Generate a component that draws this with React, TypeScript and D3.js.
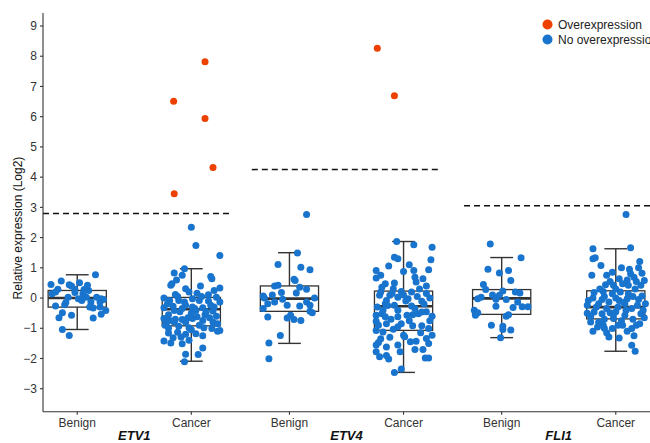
import React from 'react';
import * as d3 from 'd3';

// categories / groups
const genes = ['ETV1', 'ETV4', 'FLI1'];
const tissues = ['Benign', 'Cancer'];
// x position of each box (in category units)
const boxPos = [0, 1, 1.86, 2.86, 3.72, 4.72];

// box stats: [lowWhisker, q1, median, q3, highWhisker]
const boxStats = [
  [-1.04, -0.3, 0.0, 0.25, 0.77],
  [-2.09, -0.92, -0.37, 0.02, 0.97],
  [-1.5, -0.44, -0.02, 0.4, 1.5],
  [-2.46, -1.07, -0.27, 0.23, 1.87],
  [-1.31, -0.54, -0.01, 0.28, 1.34],
  [-1.76, -0.69, -0.3, 0.24, 1.63],
];

// overexpression threshold per gene
const thresholds = [2.8, 4.25, 3.05];

// points: [jitter, log2 value]
const etv1Benign = [
  [0.16, 0.77], [-0.23, 0.45], [-0.14, 0.56], [-0.07, 0.44], [-0.05, 0.4], [0.02, 0.51],
  [-0.17, 0.29], [-0.19, 0.2], [-0.02, 0.29], [0.06, 0.28], [0.1, 0.25], [0.05, 0.14],
  [-0.08, 0.03], [0.01, -0.02], [0.04, -0.08], [0.08, 0.03], [0.17, 0.03], [0.21, -0.02],
  [0.2, -0.13], [0.12, -0.13], [-0.19, -0.26], [-0.11, -0.22], [0.11, -0.3], [0.14, -0.33],
  [0.2, -0.3], [0.25, -0.41], [0.21, -0.54], [-0.13, -0.49], [-0.16, -0.65], [-0.05, -0.57],
  [0.14, -0.66], [-0.13, -1.04], [-0.07, -1.24], [-0.22, 0.14], [0.23, -0.05], [-0.02, 0.18],
  [0.09, 0.42], [-0.1, -0.15],
];
const etv1Cancer = [
  [0, 2.34], [0.04, 1.74], [0.25, 1.41], [-0.06, 0.97], [-0.15, 0.83], [-0.08, 0.75],
  [0.17, 0.71], [0.18, 0.64], [-0.17, 0.47], [-0.18, 0.42], [0.25, 0.33], [-0.05, 0.31],
  [-0.14, 0.12], [-0.02, 0.2], [0.05, 0.16], [0.15, 0.11], [-0.24, 0.0], [-0.19, -0.08],
  [-0.11, -0.08], [-0.06, -0.13], [0.01, -0.02], [0.07, -0.08], [0.22, 0.03], [0.25, -0.13],
  [-0.24, -0.32], [-0.16, -0.27], [-0.05, -0.24], [0.01, -0.3], [0.1, -0.32], [0.17, -0.24],
  [-0.15, -0.41], [0.04, -0.41], [0.19, -0.43], [-0.24, -0.68], [-0.19, -0.74], [-0.15, -0.79],
  [-0.08, -0.71], [-0.03, -0.65], [0.01, -0.68], [0.1, -0.74], [0.16, -0.65], [0.23, -0.85],
  [-0.22, -0.85], [-0.11, -0.93], [-0.02, -0.98], [0.07, -0.9], [0.11, -0.98], [0.18, -1.01],
  [0.25, -1.07], [-0.2, -1.16], [-0.12, -1.13], [-0.05, -1.2], [0.04, -1.18], [-0.16, -1.31],
  [-0.09, -1.29], [-0.24, -1.42], [-0.18, -1.49], [-0.08, -1.51], [0.1, -1.65], [0.06, -1.87],
  [-0.05, -1.86], [-0.06, -2.11], [-0.2, -0.55], [-0.1, -0.45], [0.0, -0.5], [0.12, -0.55],
  [0.22, -0.6], [-0.23, -0.9], [-0.05, -0.8], [0.05, -0.62], [0.2, -0.3], [0.15, -0.1],
  [-0.12, 0.05], [0.08, 0.4], [-0.2, -1.0], [0.0, -1.05], [0.1, -1.25], [-0.14, -0.7],
  [0.03, -0.35], [-0.08, -0.35], [0.23, -1.1], [0.19, -0.8], [0.13, -0.45], [-0.21, -0.2],
  [0.09, 0.05], [-0.02, -1.4], [0.2, 0.25], [-0.13, 0.6],
];
const etv1Over = [[-0.155, 6.51], [0.12, 7.82], [0.12, 5.94], [0.19, 4.32], [-0.15, 3.45]];

const etv4Benign = [
  [0.15, 2.76], [0.07, 1.49], [-0.1, 1.11], [0.1, 1.02], [0.18, 0.94], [0.05, 0.58],
  [-0.13, 0.4], [-0.1, 0.42], [0.09, 0.36], [0.15, 0.29], [-0.23, 0.07], [-0.22, 0.0],
  [-0.07, 0.18], [0.06, 0.17], [0.22, 0.0], [-0.19, -0.19], [-0.13, -0.13], [-0.06, -0.04],
  [-0.02, -0.24], [0.09, -0.26], [0.15, -0.13], [0.18, -0.24], [-0.23, -0.35], [0.18, -0.44],
  [0.2, -0.49], [-0.19, -0.63], [-0.02, -0.66], [0.04, -0.71], [0.1, -0.74], [0.01, -0.57],
  [-0.08, -1.24], [-0.18, -1.49], [-0.18, -2.01], [0.04, 0.62], [-0.15, 0.1],
];
const etv4Cancer = [
  [-0.06, 1.87], [0.09, 1.76], [0.25, 1.68], [-0.08, 1.35], [-0.05, 1.3], [0.24, 1.27],
  [-0.13, 1.06], [-0.24, 0.91], [0.0, 0.88], [0.09, 0.91], [0.22, 0.94], [-0.24, 0.66],
  [0.1, 0.69], [0.17, 0.64], [0.11, 0.53], [-0.16, 0.47], [-0.19, 0.36], [-0.09, 0.31],
  [-0.02, 0.22], [0.07, 0.2], [-0.21, 0.09], [-0.12, 0.09], [-0.05, 0.03], [0.04, -0.02],
  [0.23, 0.0], [0.16, -0.11], [-0.23, -0.3], [-0.16, -0.19], [-0.15, -0.08], [-0.08, -0.24],
  [0.07, -0.26], [-0.24, -0.57], [-0.19, -0.52], [-0.16, -0.62], [-0.05, -0.62], [0.03, -0.57],
  [0.13, -0.52], [0.16, -0.46], [-0.24, -0.77], [-0.15, -0.85], [0.08, -0.92], [0.16, -0.92],
  [0.22, -1.01], [-0.24, -1.07], [-0.18, -1.12], [-0.09, -1.03], [0.0, -1.23], [0.01, -1.28],
  [0.06, -1.45], [0.11, -1.43], [0.2, -1.34], [0.25, -1.23], [-0.22, -1.47], [-0.15, -1.62],
  [0.22, -1.5], [-0.24, -1.78], [-0.21, -1.94], [-0.13, -2.02], [-0.03, -1.78], [0.19, -1.98],
  [0.22, -1.98], [-0.02, -2.35], [-0.08, -2.46], [-0.2, 0.2], [-0.1, 0.15], [0.0, 0.1],
  [0.12, 0.05], [0.2, 0.15], [-0.18, -0.4], [-0.05, -0.4], [0.1, -0.35], [0.2, -0.45],
  [-0.22, -0.9], [-0.05, -0.95], [0.05, -0.75], [0.23, -0.75], [-0.12, -1.3], [0.15, -1.15],
  [-0.2, -1.35], [0.02, -0.1], [-0.14, -0.25], [0.18, -0.2], [0.25, -0.6], [-0.08, 0.5],
  [0.2, 0.4], [-0.2, 0.75], [0.05, 1.1], [-0.15, -1.9], [0.1, -1.7], [-0.05, -1.55],
  [0.17, -1.7], [-0.24, -1.55], [0.08, -0.55], [-0.11, -0.7], [0.14, 0.3], [-0.02, -0.85],
];
const etv4Over = [[-0.23, 8.26], [-0.08, 6.69]];

const fli1Benign = [
  [-0.1, 1.79], [0.17, 1.33], [-0.12, 0.95], [-0.02, 0.83], [0.06, 0.91], [0.08, 0.58],
  [-0.16, 0.45], [-0.14, 0.28], [-0.02, 0.09], [0.01, 0.23], [0.16, 0.17], [-0.21, -0.02],
  [-0.18, 0.03], [-0.05, -0.04], [0.04, -0.05], [0.14, -0.13], [-0.05, -0.27], [0.1, -0.31],
  [0.18, -0.29], [0.23, -0.29], [-0.24, -0.4], [-0.21, -0.49], [-0.23, -0.57], [0.04, -0.6],
  [0.06, -0.55], [-0.09, -0.9], [0.01, -0.93], [0.01, -1.04], [0.08, -1.06], [-0.01, -1.31],
  [0.12, 0.2], [-0.08, 0.1],
];
const fli1Cancer = [
  [0.09, 2.76], [-0.2, 1.63], [0.13, 1.66], [-0.2, 1.3], [-0.18, 1.33], [-0.13, 1.08],
  [0.21, 1.21], [-0.21, 0.75], [-0.08, 0.75], [0.13, 0.8], [0.16, 0.69], [0.23, 0.82],
  [0.25, 0.58], [0.03, 0.64], [-0.09, 0.44], [-0.02, 0.42], [0.06, 0.47], [0.11, 0.42],
  [0.22, 0.42], [-0.19, 0.18], [-0.11, 0.22], [-0.03, 0.14], [0.04, 0.2], [0.11, 0.14],
  [0.23, 0.07], [-0.24, -0.08], [-0.25, -0.24], [-0.15, -0.19], [-0.06, -0.13], [0.03, -0.08],
  [0.08, -0.19], [0.19, -0.24], [0.26, -0.19], [-0.19, -0.46], [-0.12, -0.52], [-0.05, -0.49],
  [-0.02, -0.68], [0.08, -0.57], [0.22, -0.52], [-0.22, -0.79], [-0.16, -0.96], [-0.11, -0.9],
  [-0.03, -1.01], [0.06, -0.9], [0.14, -1.01], [-0.06, -1.29], [0.03, -1.32], [0.16, -1.25],
  [0.14, -1.56], [0.17, -1.76], [-0.2, 0.0], [-0.1, 0.05], [0.0, 0.0], [0.1, -0.02],
  [0.2, -0.05], [-0.17, -0.3], [-0.08, -0.35], [0.02, -0.3], [0.14, -0.35], [0.24, -0.4],
  [-0.22, -0.6], [-0.1, -0.7], [0.05, -0.75], [0.15, -0.7], [0.25, -0.65], [-0.14, 0.3],
  [0.0, 0.3], [0.17, 0.3], [-0.05, 0.55], [0.1, 0.6], [0.18, 0.55], [-0.2, -1.1],
  [-0.08, -1.15], [0.1, -1.1], [0.21, -0.85], [-0.25, -0.5], [0.05, 1.0], [0.12, 0.95],
  [-0.03, 0.85], [0.2, 1.0], [-0.15, -0.8], [0.0, -0.45], [0.09, -0.4], [-0.12, -0.05],
  [0.15, 0.05], [0.07, -0.15], [-0.02, -0.55], [0.18, -0.9], [-0.1, -1.0], [0.02, -0.9],
];

const normalPoints = [etv1Benign, etv1Cancer, etv4Benign, etv4Cancer, fli1Benign, fli1Cancer];
const overPoints = [[], etv1Over, [], etv4Over, [], []];

const yTicks = [-3, -2, -1, 0, 1, 2, 3, 4, 5, 6, 7, 8, 9];
const legendLabels = ['Overexpression', 'No overexpression'];

const RED = '#EE4000';
const BLUE = '#1874CD';
const INK = '#333333';

const W = 650;
const H = 443;

const App = () => {
  const x = d3.scaleLinear().domain([-0.3, 5.02]).range([43, 650]);
  const y = d3.scaleLinear().domain([-3.76, 9.43]).range([411.7, 13]);
  const unit = x(1) - x(0);
  const boxHalf = 0.255 * unit;
  const capHalf = 0.1 * unit;
  const fmt = (v: number) => (v < 0 ? '\u2212' + Math.abs(v) : String(v));
  const font = 'Liberation Sans, Arial, sans-serif';

  return (
    <svg width={W} height={H} style={{ position: 'absolute', left: 0, top: 0 }} fontFamily={font}>
      <rect width={W} height={H} fill="#fff" />

      {/* threshold lines */}
      {genes.map((g, i) => {
        const c = (boxPos[i * 2] + boxPos[i * 2 + 1]) / 2;
        return (
          <line key={g} x1={Math.max(x(c - 0.83), 43)} x2={Math.min(x(c + 0.83), 650)}
            y1={y(thresholds[i])} y2={y(thresholds[i])}
            stroke="#111" strokeWidth={1.5} strokeDasharray="6,4" />
        );
      })}

      {/* boxes */}
      {boxStats.map((s, i) => {
        const cx = x(boxPos[i]);
        const [lo, q1, med, q3, hi] = s;
        return (
          <g key={i} stroke={INK} fill="none">
            <line x1={cx} x2={cx} y1={y(hi)} y2={y(q3)} strokeWidth={1.4} />
            <line x1={cx} x2={cx} y1={y(q1)} y2={y(lo)} strokeWidth={1.4} />
            <line x1={cx - capHalf} x2={cx + capHalf} y1={y(hi)} y2={y(hi)} strokeWidth={1.4} />
            <line x1={cx - capHalf} x2={cx + capHalf} y1={y(lo)} y2={y(lo)} strokeWidth={1.4} />
            <rect x={cx - boxHalf} width={boxHalf * 2} y={y(q3)} height={y(q1) - y(q3)} strokeWidth={1.3} />
            <line x1={cx - boxHalf} x2={cx + boxHalf} y1={y(med)} y2={y(med)} strokeWidth={2.6} />
          </g>
        );
      })}

      {/* points */}
      {normalPoints.map((pts, i) =>
        pts.map((p, j) => (
          <circle key={`n${i}-${j}`} cx={x(boxPos[i] + p[0])} cy={y(p[1])} r={3.5} fill={BLUE} />
        ))
      )}
      {overPoints.map((pts, i) =>
        pts.map((p, j) => (
          <circle key={`o${i}-${j}`} cx={x(boxPos[i] + p[0])} cy={y(p[1])} r={3.5} fill={RED} />
        ))
      )}

      {/* y axis */}
      <line x1={43} x2={43} y1={13} y2={411.7} stroke={INK} strokeWidth={1.1} />
      {yTicks.map((t) => (
        <g key={t}>
          <line x1={40} x2={43} y1={y(t)} y2={y(t)} stroke={INK} strokeWidth={1.1} />
          <text x={37} y={y(t)} dy="0.35em" textAnchor="end" fontSize={12} fill={INK}>{fmt(t)}</text>
        </g>
      ))}
      <text transform={`translate(22,${228}) rotate(-90)`} textAnchor="middle" fontSize={12} fill="#111">
        Relative expression (Log2)
      </text>

      {/* x axis */}
      <line x1={43} x2={650} y1={411.7} y2={411.7} stroke={INK} strokeWidth={1.1} />
      {boxPos.map((u, i) => (
        <g key={i}>
          <line x1={x(u)} x2={x(u)} y1={411.7} y2={414.7} stroke={INK} strokeWidth={1.1} />
          <text x={x(u)} y={427} textAnchor="middle" fontSize={12} fill={INK}>{tissues[i % 2]}</text>
        </g>
      ))}
      {genes.map((g, i) => (
        <text key={g} x={x((boxPos[i * 2] + boxPos[i * 2 + 1]) / 2)} y={440} textAnchor="middle"
          fontSize={13} fontWeight="bold" fontStyle="italic" fill="#111">{g}</text>
      ))}

      {/* legend */}
      {legendLabels.map((l, i) => (
        <g key={l}>
          <circle cx={547.5} cy={24.5 + i * 15} r={5} fill={i === 0 ? RED : BLUE} />
          <text x={558} y={24.5 + i * 15} dy="0.35em" fontSize={12} fill="#222">{l}</text>
        </g>
      ))}
    </svg>
  );
};

export default App;
